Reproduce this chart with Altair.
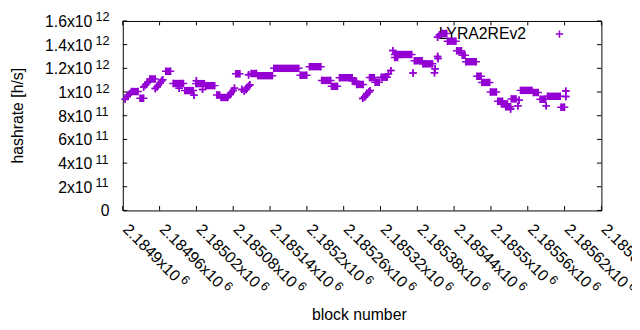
import altair as alt
import pandas as pd

# Runs of blocks with the same hashrate estimate (start block, end block, hashrate in h/s).
RUN_START = [2184904, 2184907, 2184909, 2184912, 2184914, 2184928, 2184934, 2184937, 2184939, 2184941,
             2184944, 2184953, 2184956, 2184958, 2184961, 2184963, 2184965, 2184970, 2184982, 2184992,
             2185001, 2185016, 2185019, 2185020, 2185030, 2185035, 2185053, 2185060, 2185072, 2185075,
             2185077, 2185080, 2185082, 2185084, 2185094, 2185098, 2185101, 2185103, 2185105, 2185107,
             2185105, 2185109, 2185120, 2185146, 2185189, 2185204, 2185224, 2185240, 2185253, 2185274,
             2185281, 2185291, 2185294, 2185296, 2185298, 2185301, 2185303, 2185302, 2185311, 2185321,
             2185333, 2185337, 2185340, 2185343, 2185343, 2185373, 2185375, 2185389, 2185408, 2185409,
             2185413, 2185414, 2185413, 2185416, 2185420, 2185429, 2185444, 2185453, 2185459, 2185477,
             2185485, 2185499, 2185511, 2185517, 2185524, 2185532, 2185533, 2185544, 2185546, 2185548,
             2185569, 2185580, 2185590, 2185592, 2185614, 2185622, 2185622]
RUN_END = [2184904, 2184907, 2184909, 2184912, 2184925, 2184934, 2184934, 2184937, 2184939, 2184941,
           2184953, 2184953, 2184956, 2184958, 2184961, 2184963, 2184965, 2184978, 2184999, 2184992,
           2185015, 2185016, 2185033, 2185020, 2185030, 2185050, 2185058, 2185071, 2185072, 2185075,
           2185077, 2185080, 2185082, 2185091, 2185094, 2185098, 2185101, 2185103, 2185105, 2185107,
           2185105, 2185118, 2185144, 2185187, 2185200, 2185223, 2185239, 2185250, 2185274, 2185281,
           2185292, 2185291, 2185294, 2185296, 2185298, 2185301, 2185303, 2185310, 2185318, 2185331,
           2185333, 2185337, 2185340, 2185371, 2185348, 2185373, 2185388, 2185405, 2185408, 2185409,
           2185413, 2185414, 2185413, 2185416, 2185428, 2185443, 2185452, 2185458, 2185476, 2185484,
           2185498, 2185509, 2185519, 2185527, 2185532, 2185532, 2185541, 2185544, 2185546, 2185567,
           2185577, 2185589, 2185590, 2185613, 2185620, 2185622, 2185622]
RUN_VALUE = [9.39e11, 9.62e11, 9.75e11, 9.88e11, 10.04e11, 9.47e11, 10.42e11, 10.58e11, 10.71e11, 10.83e11,
             11.10e11, 10.29e11, 10.42e11, 10.58e11, 10.75e11, 10.92e11, 11.04e11, 11.75e11, 10.72e11, 10.31e11,
             10.12e11, 9.72e11, 10.71e11, 10.96e11, 10.22e11, 10.54e11, 9.75e11, 9.54e11, 9.67e11, 9.79e11,
             9.96e11, 10.12e11, 10.33e11, 11.54e11, 10.22e11, 10.08e11, 10.21e11, 10.38e11, 10.50e11, 10.62e11,
             11.46e11, 11.56e11, 11.38e11, 12.00e11, 11.42e11, 12.14e11, 10.98e11, 10.48e11, 11.21e11, 10.92e11,
             10.64e11, 9.46e11, 9.58e11, 9.71e11, 9.88e11, 10.00e11, 10.12e11, 11.22e11, 10.83e11, 11.25e11,
             11.54e11, 11.81e11, 13.50e11, 13.17e11, 12.92e11, 11.61e11, 12.64e11, 12.38e11, 11.62e11, 11.96e11,
             13.00e11, 12.83e11, 14.62e11, 14.81e11, 14.94e11, 14.29e11, 13.48e11, 13.11e11, 12.56e11, 11.33e11,
             10.81e11, 10.00e11, 9.22e11, 9.00e11, 8.75e11, 8.56e11, 9.42e11, 8.83e11, 9.31e11, 10.14e11,
             9.96e11, 9.39e11, 8.83e11, 9.64e11, 8.72e11, 10.08e11, 9.62e11]

X_TICKS = [2184900, 2184960, 2185020, 2185080, 2185140, 2185200, 2185260,
           2185320, 2185380, 2185440, 2185500, 2185560, 2185620, 2185680]
X_BASE = ["2.1849x10", "2.18496x10", "2.18502x10", "2.18508x10", "2.18514x10", "2.1852x10", "2.18526x10",
          "2.18532x10", "2.18538x10", "2.18544x10", "2.1855x10", "2.18556x10", "2.18562x10", "2.18568x10"]
X_SUP = ["6"] * 14

Y_TICKS = [0, 2e11, 4e11, 6e11, 8e11, 1e12, 1.2e12, 1.4e12, 1.6e12]
Y_BASE = ["0", "2x10", "4x10", "6x10", "8x10", "1x10", "1.2x10", "1.4x10", "1.6x10"]
Y_SUP = ["", "11", "11", "11", "11", "12", "12", "12", "12"]

SERIES = "LYRA2REv2"
X_TITLE = "block number"
Y_TITLE = "hashrate [h/s]"

COLOR = "#9400D3"
FONT = "Liberation Sans"
W, H = 485, 192
PLUS = "M-1,0L1,0M0,-1L0,1"

runs = pd.DataFrame({"start": RUN_START, "end": RUN_END, "hashrate": RUN_VALUE})
xt = pd.DataFrame({"v": X_TICKS, "lab": X_BASE, "sup": X_SUP})
yt = pd.DataFrame({"v": Y_TICKS, "lab": Y_BASE, "sup": Y_SUP})
one = pd.DataFrame({"label": [SERIES], "xt": [X_TITLE], "yt": [Y_TITLE]})

xs = alt.Scale(domain=[2184900, 2185680], nice=False, zero=False)
ys = alt.Scale(domain=[0, 1.6e12], nice=False, zero=False)

def X(f):
    return alt.X(f, scale=xs, axis=None, title=None)

def Y(f):
    return alt.Y(f, scale=ys, axis=None, title=None)

legend_text = alt.Chart(one).mark_text(
    align="right", baseline="middle", fontSize=16, font=FONT, color="black"
).encode(x=alt.value(408.7), y=alt.value(13), text="label:N")
legend_plus = alt.Chart(one).mark_point(
    shape=PLUS, size=56, filled=False, strokeWidth=1.5, color=COLOR, opacity=1
).encode(x=alt.value(442.5), y=alt.value(13.3))

bars = alt.Chart(runs).mark_rule(color=COLOR, strokeWidth=7.5, strokeCap="butt").encode(
    x=X("start:Q"), x2="end:Q", y=Y("hashrate:Q"))
p_start = alt.Chart(runs).mark_point(
    shape=PLUS, size=56, filled=False, strokeWidth=1.5, color=COLOR, opacity=1
).encode(x=X("start:Q"), y=Y("hashrate:Q"))
p_end = alt.Chart(runs).mark_point(
    shape=PLUS, size=56, filled=False, strokeWidth=1.5, color=COLOR, opacity=1
).encode(x=X("end:Q"), y=Y("hashrate:Q"))

tick_len = 4.5
xt_bottom = alt.Chart(xt).mark_rule(color="black", strokeWidth=1).encode(
    x=X("v:Q"), y=alt.value(H), y2=alt.value(H - tick_len))
xt_top = alt.Chart(xt).mark_rule(color="black", strokeWidth=1).encode(
    x=X("v:Q"), y=alt.value(0), y2=alt.value(tick_len))
yt_left = alt.Chart(yt).mark_rule(color="black", strokeWidth=1).encode(
    y=Y("v:Q"), x=alt.value(0), x2=alt.value(tick_len))
yt_right = alt.Chart(yt).mark_rule(color="black", strokeWidth=1).encode(
    y=Y("v:Q"), x=alt.value(W), x2=alt.value(W - tick_len))

y_lab = alt.Chart(yt).transform_filter("datum.sup != ''").mark_text(
    align="right", baseline="middle", fontSize=16, font=FONT, color="black", dy=1
).encode(y=Y("v:Q"), x=alt.value(-30.8), text="lab:N")
y_zero = alt.Chart(yt).transform_filter("datum.sup == ''").mark_text(
    align="right", baseline="middle", fontSize=16, font=FONT, color="black", dy=1
).encode(y=Y("v:Q"), x=alt.value(-13.5), text="lab:N")
y_sup = alt.Chart(yt).transform_filter("datum.sup != ''").mark_text(
    align="left", baseline="middle", fontSize=12.8, font=FONT, color="black", dy=-3.5
).encode(y=Y("v:Q"), x=alt.value(-27.7), text="sup:N")

x_lab = alt.Chart(xt).mark_text(
    angle=45, align="left", baseline="middle", fontSize=16, font=FONT, color="black", dx=3.8
).encode(x=X("v:Q"), y=alt.value(205.8), text="lab:N")
x_sup9 = alt.Chart(xt).transform_filter("length(datum.lab) == 9").mark_text(
    angle=45, align="left", baseline="middle", fontSize=12.8, font=FONT, color="black", dx=81.5, dy=-4.5
).encode(x=X("v:Q"), y=alt.value(205.8), text="sup:N")
x_sup10 = alt.Chart(xt).transform_filter("length(datum.lab) == 10").mark_text(
    angle=45, align="left", baseline="middle", fontSize=12.8, font=FONT, color="black", dx=90.4, dy=-4.5
).encode(x=X("v:Q"), y=alt.value(205.8), text="sup:N")

x_title = alt.Chart(one).mark_text(
    align="center", baseline="middle", fontSize=16, font=FONT, color="black"
).encode(x=alt.value(239.7), y=alt.value(298), text="xt:N")
y_title = alt.Chart(one).mark_text(
    align="center", baseline="middle", fontSize=16, font=FONT, color="black", angle=270
).encode(x=alt.value(-106.3), y=alt.value(96), text="yt:N")

chart = alt.layer(
    legend_text, bars, p_start, p_end, legend_plus,
    xt_bottom, xt_top, yt_left, yt_right,
    y_lab, y_zero, y_sup, x_lab, x_sup9, x_sup10, x_title, y_title,
).properties(
    width=W, height=H,
    autosize=alt.AutoSizeParams(type="none"),
    padding={"left": 116.3, "top": 11, "right": 31, "bottom": 119},
).configure_view(stroke="black", strokeWidth=1)

chart.save("out.html", embed_options={"renderer": "svg", "actions": False})
